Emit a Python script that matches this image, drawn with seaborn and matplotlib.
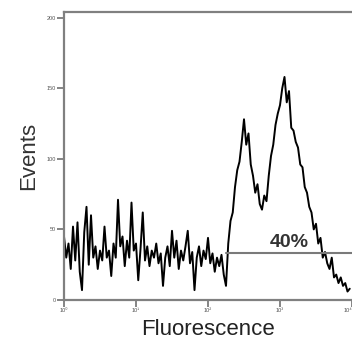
import matplotlib
matplotlib.use("Agg")
import matplotlib.pyplot as plt
import seaborn as sns
import numpy as np
import pandas as pd

# histogram counts per channel bin (0..1023, step 8)
counts = [
    45, 30, 40, 22, 52, 28, 55, 20, 7, 48,
    66, 25, 60, 30, 38, 22, 35, 28, 52, 30,
    35, 17, 40, 30, 71, 38, 45, 24, 42, 30,
    69, 35, 40, 14, 36, 62, 28, 38, 24, 35,
    30, 40, 26, 33, 10, 30, 38, 24, 49, 30,
    42, 22, 35, 28, 38, 49, 26, 34, 7, 30,
    38, 24, 35, 29, 44, 26, 33, 20, 30, 24,
    32, 18, 10, 40, 56, 62, 80, 92, 98, 112,
    128, 110, 118, 96, 88, 76, 82, 68, 64, 74,
    70, 88, 102, 110, 124, 132, 138, 150, 158, 140,
    148, 122, 120, 112, 108, 96, 94, 80, 76, 66,
    62, 50, 54, 40, 44, 30, 34, 26, 22, 30,
    16, 18, 12, 16, 10, 12, 6, 8,
]
channels = np.arange(0, 1024, 8)

gate_start = 575
gate_level = 33
gate_label = "40%"

x_ticks = [0, 256, 512, 768, 1024]
x_tick_labels = ["10⁰", "10¹", "10²", "10³", "10⁴"]
y_ticks = [0, 50, 100, 150, 200]
y_tick_labels = ["0", "50", "100", "150", "200"]

df = pd.DataFrame({"channel": channels, "count": counts})

sns.set_style("ticks")
plt.rcParams["font.family"] = ["Liberation Sans", "DejaVu Sans"]

fig = plt.figure(figsize=(3.52, 3.46), dpi=100)
ax = fig.add_axes([64 / 352, 1 - 300 / 346, 288 / 352, 288 / 346])

sns.lineplot(data=df, x="channel", y="count", color="black", linewidth=1.4, ax=ax)

# gate marker
ax.plot([gate_start, 1024], [gate_level, gate_level], color="#7a7a7a", linewidth=1.5)
ax.text(800, gate_level + 2, gate_label, fontsize=14, color="#333333",
        ha="center", va="bottom", fontweight="bold")

ax.set_xlim(0, 1024)
ax.set_ylim(0, 204)
ax.set_xticks(x_ticks)
ax.set_xticklabels(x_tick_labels, fontsize=4, color="#555555")
ax.get_xticklabels()[-1].set_ha("right")
ax.set_yticks(y_ticks)
ax.set_yticklabels(y_tick_labels, fontsize=4, color="#555555")
ax.tick_params(length=5, width=1.2, color="#707070", pad=1)

for side in ["left", "bottom", "top"]:
    ax.spines[side].set_color("#808080")
    ax.spines[side].set_linewidth(1.6)
ax.spines["right"].set_visible(False)

ax.set_xlabel("Fluorescence", fontsize=16, color="#222222", labelpad=4)
ax.set_ylabel("Events", fontsize=16, color="#333333", labelpad=5)

fig.savefig("out.png", dpi=100)
